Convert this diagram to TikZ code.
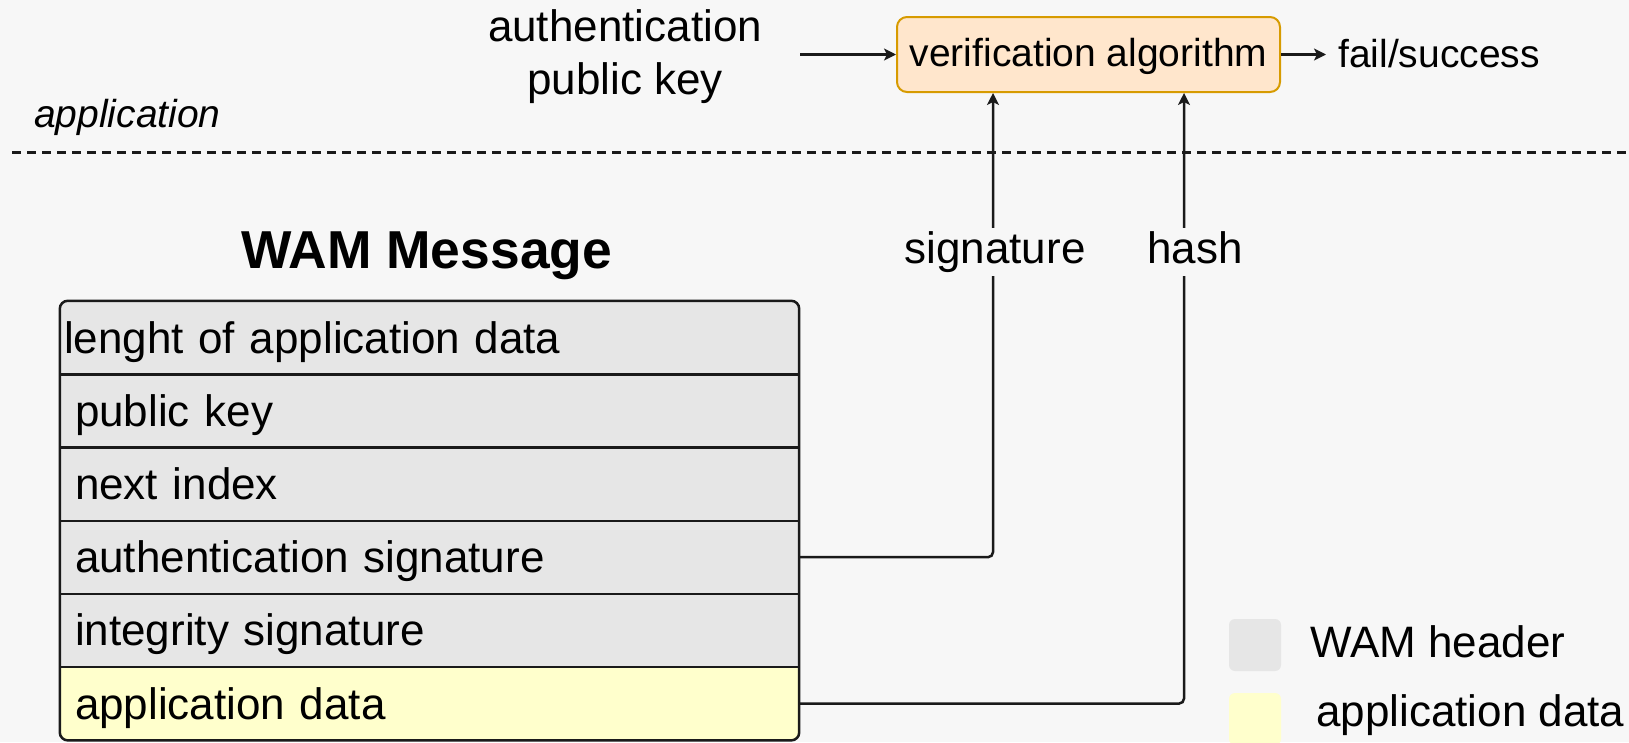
\documentclass[tikz,border=0pt]{standalone}
\usepackage{fontspec}
\setmainfont{Liberation Sans}
\usetikzlibrary{arrows.meta}
\definecolor{bg}{HTML}{F7F7F7}
\definecolor{hdr}{HTML}{E6E6E6}
\definecolor{appc}{HTML}{FFFFCC}
\definecolor{verfill}{HTML}{FFE6CC}
\definecolor{verdraw}{HTML}{D79B00}
\definecolor{ln}{HTML}{1A1A1A}
\tikzset{
  txt/.style={font=\fontsize{44}{53}\selectfont, inner sep=0pt},
  smalltxt/.style={font=\fontsize{39}{47}\selectfont, inner sep=0pt},
  ittxt/.style={font=\fontsize{39}{47}\selectfont\itshape, inner sep=0pt},
  titletxt/.style={font=\fontsize{53.4}{64}\selectfont\bfseries, inner sep=0pt},
  conn/.style={draw=ln, line width=2.5pt, rounded corners=5pt,
    -{Stealth[length=12pt,width=12pt,inset=3pt]}},
  verbox/.style={draw=verdraw, fill=verfill, line width=2pt, rounded corners=10pt,
    minimum width=383pt, minimum height=75pt, inner sep=0pt,
    font=\fontsize{39}{47}\selectfont, text height=30pt, text depth=6pt},
  rowbox/.style={minimum width=739pt, minimum height=73.2pt, inner ysep=0pt,
    inner xsep=15pt, text width=709pt, align=left,
    font=\fontsize{44}{53}\selectfont, text height=36pt, text depth=5pt},
  firstrow/.style={rowbox, inner xsep=4pt, text width=731pt},
  tblline/.style={draw=ln, line width=2.5pt},
  edgelabel/.style={txt, fill=bg, inner xsep=3pt, inner ysep=4pt, text height=31pt, text depth=9pt},
  legkey/.style={minimum size=52pt, inner sep=0pt, rounded corners=6pt},
}
\begin{document}
\begin{tikzpicture}[x=1pt, y=-1pt]
\useasboundingbox (0,0) rectangle (1629,742);
\fill[bg] (0,0) rectangle (1629,742);

% top part
\node[txt, align=center] (auth) at (625,56.6) {authentication\\public key};
\node[verbox] (ver) at (1088.5,54.5) {verification algorithm};
\node[smalltxt, anchor=base west] (fs) at (1338,67) {fail/success};
\node[ittxt, anchor=base west] (applab) at (34,127) {application};
\coordinate (dl) at (12,152.5);
\coordinate (dr) at (1629,152.5);
\draw[draw=ln, line width=2.5pt, dash pattern=on 9pt off 6pt] (dl) -- (dr);

\draw[conn, shorten <=38pt] (auth.east |- ver.west) -- (ver.west);
\draw[conn, shorten >=12pt] (ver.east) -- (fs.west |- ver.east);

% title
\node[titletxt, anchor=base west] (title) at (241,268) {WAM Message};

% table
\begin{scope}
\clip[rounded corners=8pt] (60,301) rectangle (799,740);
\node[firstrow, fill=hdr] (r1) at (429.5,337.6) {lenght of application data};
\node[rowbox, fill=hdr] (r2) at (429.5,410.8) {public key};
\node[rowbox, fill=hdr] (r3) at (429.5,484.0) {next index};
\node[rowbox, fill=hdr] (r4) at (429.5,557.2) {authentication signature};
\node[rowbox, fill=hdr] (r5) at (429.5,630.4) {integrity signature};
\node[rowbox, fill=appc] (r6) at (429.5,703.6) {application data};
\end{scope}
\foreach \r in {r1,r2,r3,r4,r5}{
  \draw[tblline] (\r.south west) -- (\r.south east);
}
\draw[tblline, rounded corners=8pt] (r1.north west) rectangle (r6.south east);

% connectors from the table
\draw[conn] (r4.east) -| ([xshift=-95.5pt]ver.south);
\draw[conn] (r6.east) -| ([xshift=95.5pt]ver.south);
\node[edgelabel, anchor=base] (siglab) at (995,263) {signature};
\node[edgelabel, anchor=base] (hashlab) at (1195,263) {hash};

% legend
\node[legkey, fill=hdr] (kh) at (1255,645) {};
\node[legkey, fill=appc] (ka) at (1255,719) {};
\node[txt, anchor=base west] (lh) at (1310,657) {WAM header};
\node[txt, anchor=base west] (la) at (1316,726) {application data};
\end{tikzpicture}
\end{document}
